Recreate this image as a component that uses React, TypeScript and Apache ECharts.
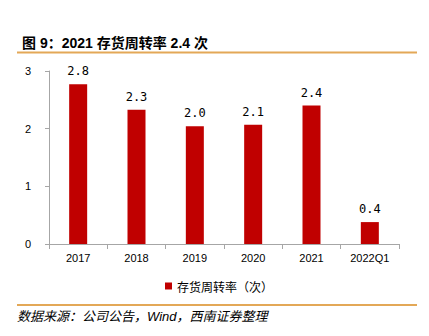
import React, { useEffect, useRef } from "react";
import * as echarts from "echarts";

const categories = ["2017", "2018", "2019", "2020", "2021", "2022Q1"];
const turnover = [2.77, 2.33, 2.04, 2.07, 2.4, 0.38];
const seriesName = "存货周转率（次）";
const titleText = "图 9：2021 存货周转率 2.4 次";
const sourceText = "数据来源：公司公告，Wind，西南证券整理";

export default function App() {
  const ref = useRef<HTMLDivElement>(null);
  useEffect(() => {
    if (!ref.current) return;
    const chart = echarts.init(ref.current, null, { renderer: "svg" });
    chart.setOption({
      animation: false,
      backgroundColor: "#fff",
      title: {
        text: titleText,
        left: 17,
        top: 31,
        textStyle: {
          fontSize: 14,
          fontWeight: "bold",
          color: "#000",
          fontFamily: "'Liberation Sans', 'Noto Sans CJK SC', sans-serif",
        },
      },
      graphic: [
        {
          type: "line",
          shape: { x1: 17, y1: 52.5, x2: 417, y2: 52.5 },
          style: { stroke: "#E3A857", lineWidth: 2 },
        },
        {
          type: "line",
          shape: { x1: 17, y1: 305, x2: 417, y2: 305 },
          style: { stroke: "#E3A857", lineWidth: 2 },
        },
        {
          type: "text",
          left: 17,
          top: 310,
          style: {
            text: sourceText,
            fontSize: 13,
            fontStyle: "italic",
            fill: "#000",
            fontFamily: "'Liberation Sans', 'Noto Sans CJK SC', serif",
          },
        },
      ],
      legend: {
        data: [seriesName],
        left: 160,
        top: 275,
        icon: "rect",
        itemWidth: 7,
        itemHeight: 7,
        itemGap: 4,
        textStyle: {
          fontSize: 12,
          color: "#000",
          fontFamily: "'Noto Sans CJK SC', serif",
        },
      },
      grid: { left: 49, right: 30, top: 71, bottom: 92 },
      xAxis: {
        type: "category",
        data: categories,
        axisLine: { lineStyle: { color: "#A6A6A6" } },
        axisTick: { show: true, length: 5, lineStyle: { color: "#A6A6A6" } },
        axisLabel: {
          fontSize: 11,
          color: "#000",
          margin: 8,
          fontFamily: "'Liberation Sans', Arial, sans-serif",
        },
      },
      yAxis: {
        type: "value",
        min: 0,
        max: 3,
        interval: 1,
        splitLine: { show: false },
        axisLine: { show: true, lineStyle: { color: "#A6A6A6" } },
        axisTick: { show: true, length: 4, inside: false, lineStyle: { color: "#A6A6A6" } },
        axisLabel: {
          fontSize: 11,
          color: "#000",
          margin: 18,
          fontFamily: "'Liberation Sans', Arial, sans-serif",
        },
      },
      series: [
        {
          name: seriesName,
          type: "bar",
          data: turnover,
          barWidth: 18,
          itemStyle: { color: "#C00000" },
          label: {
            show: true,
            position: "top",
            distance: 7,
            fontSize: 12,
            color: "#000",
            fontFamily: "'DejaVu Sans Mono', monospace",
            formatter: (p: any) => Number(p.value).toFixed(1),
          },
        },
      ],
    });
    return () => chart.dispose();
  }, []);
  return (
    <div
      ref={ref}
      style={{ position: "fixed", left: 0, top: 0, width: 429, height: 336 }}
    />
  );
}
